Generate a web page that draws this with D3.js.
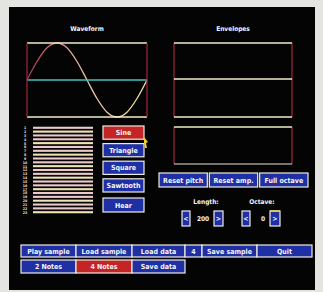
<!DOCTYPE html>
<html>
<head>
<meta charset="utf-8">
<script src="https://cdn.jsdelivr.net/npm/d3@7"></script>
<style>
  body { margin: 0; background: #e4e4e0; }
  text { font-family: "DejaVu Sans Condensed", "DejaVu Sans", sans-serif; font-weight: bold; }
</style>
</head>
<body>
<div id="chart"></div>
<script>
// waveform samples (one period, amplitude -1..1)
const wavePhase = [0, 1, 2, 3, 4, 5, 6, 7, 8, 9, 10, 11, 12];
const waveValues = [0, 0.5, 0.87, 1, 0.87, 0.5, 0, -0.5, -0.87, -1, -0.87, -0.5, 0];

// harmonic level stripes (all at full)
const harmonics = d3.range(1, 24);
const harmonicLevels = [1, 1, 1, 1, 1, 1, 1, 1, 1, 1, 1, 1, 1, 1, 1, 1, 1, 1, 1, 1, 1, 1, 1];

const waveButtons = ['Sine', 'Triangle', 'Square', 'Sawtooth'];
const resetButtons = ['Reset pitch', 'Reset amp.', 'Full octave'];
const menuRow1 = ['Play sample', 'Load sample', 'Load data', '4', 'Save sample', 'Quit'];
const menuRow2 = ['2 Notes', '4 Notes', 'Save data'];
const lengthValue = '200';
const octaveValue = '0';

const W = 323, H = 292;
const blue = '#1f2fa4', red = '#c42424', edge = '#f0ece0';

const svg = d3.select('#chart').append('svg')
    .attr('width', W).attr('height', H);

svg.append('rect').attr('x', 9).attr('y', 7).attr('width', 306).attr('height', 283)
    .attr('fill', '#050405');

function label(x, y, t, size, anchor) {
    svg.append('text').attr('x', x).attr('y', y)
        .attr('text-anchor', anchor || 'middle')
        .attr('font-size', size || 7)
        .attr('fill', '#f6f6f6')
        .text(t);
}

function button(x, y, w, h, t, fill) {
    svg.append('rect').attr('x', x).attr('y', y).attr('width', w).attr('height', h)
        .attr('fill', fill).attr('stroke', edge).attr('stroke-width', 1.2);
    label(x + w / 2, y + h / 2 + 2.6, t, 7);
}

// Waveform panel
label(87, 31, 'Waveform', 6.5);
const wx = d3.scaleLinear().domain([0, 12]).range([27, 147]);
const wy = d3.scaleLinear().domain([-1, 1]).range([117, 43]);

const grad = svg.append('defs').append('linearGradient').attr('id', 'wg')
    .attr('x1', '0%').attr('x2', '100%');
grad.append('stop').attr('offset', '0%').attr('stop-color', '#b03050');
grad.append('stop').attr('offset', '45%').attr('stop-color', '#e8c0a0');
grad.append('stop').attr('offset', '100%').attr('stop-color', '#f0e8a0');

svg.append('path')
    .attr('d', d3.line().x((d, i) => wx(wavePhase[i])).y(d => wy(d)).curve(d3.curveCardinal)(waveValues))
    .attr('fill', 'none').attr('stroke', 'url(#wg)').attr('stroke-width', 1.3);

[-1, 1].forEach(v => svg.append('line').attr('x1', 27).attr('x2', 147)
    .attr('y1', wy(v)).attr('y2', wy(v)).attr('stroke', '#f2ecc8').attr('stroke-width', 1.4));
svg.append('line').attr('x1', 27).attr('x2', 147).attr('y1', wy(0)).attr('y2', wy(0))
    .attr('stroke', '#3cc4c0').attr('stroke-width', 1.4);
[0, 12].forEach(p => svg.append('line').attr('x1', wx(p)).attr('x2', wx(p))
    .attr('y1', 43).attr('y2', 117).attr('stroke', '#a02838').attr('stroke-width', 1.2));

// Envelopes panel
label(233, 31, 'Envelopes', 6.5);
[[43, 117], [127, 164]].forEach(([y0, y1]) => {
    svg.append('line').attr('x1', 174).attr('x2', 174).attr('y1', y0).attr('y2', y1).attr('stroke', '#a02838').attr('stroke-width', 1.2);
    svg.append('line').attr('x1', 292).attr('x2', 292).attr('y1', y0).attr('y2', y1).attr('stroke', '#a02838').attr('stroke-width', 1.2);
});
[43, 79, 117, 127].forEach(y => svg.append('line').attr('x1', 174).attr('x2', 292)
    .attr('y1', y).attr('y2', y).attr('stroke', '#f2eccc').attr('stroke-width', 1.4));
svg.append('line').attr('x1', 174).attr('x2', 292).attr('y1', 164).attr('y2', 164)
    .attr('stroke', '#e8e0d0').attr('stroke-width', 1);

// harmonic stripes
const hy = d3.scaleBand().domain(harmonics).range([125, 215]).padding(0.45);
const hx = d3.scaleLinear().domain([0, 1]).range([33, 93]);
svg.selectAll('.hbar').data(harmonicLevels).enter().append('rect')
    .attr('x', hx(0)).attr('y', (d, i) => hy(harmonics[i]))
    .attr('width', d => hx(d) - hx(0)).attr('height', hy.bandwidth())
    .attr('fill', (d, i) => i % 3 === 1 ? '#ece4b0' : '#ecc8cc');
svg.selectAll('.hlab').data(harmonics).enter().append('text')
    .attr('x', 25).attr('y', d => hy(d) + 2.5).attr('text-anchor', 'middle')
    .attr('font-size', 3.5).attr('fill', '#e8e8e8').text(d => d);

// waveform select buttons
const by = d3.scaleBand().domain(waveButtons).range([126, 192]).paddingInner(0.25);
waveButtons.forEach((b, i) => button(103, by(b), 41, by.bandwidth(), b, i === 0 ? red : blue));
button(103, 198, 41, 14, 'Hear', blue);

// mouse pointer
svg.append('path').attr('d', 'M144,137 L148,142 L146,143 L147,148 L145,148 L144,143 Z')
    .attr('fill', '#f0d020');

// reset buttons
const rx = d3.scaleBand().domain(resetButtons).range([159, 308]).paddingInner(0.04);
resetButtons.forEach(b => button(rx(b), 173, rx.bandwidth(), 14, b, blue));

// length / octave
label(206, 204, 'Length:', 6.5);
label(262, 204, 'Octave:', 6.5);
button(182, 211, 8, 15, '<', blue);
label(203, 221, lengthValue, 6.5);
button(214, 211, 9, 15, '>', blue);
button(242, 211, 8, 15, '<', blue);
label(263, 221, octaveValue, 6.5);
button(270, 211, 10, 15, '>', blue);
svg.append('line').attr('x1', 270).attr('x2', 280).attr('y1', 211).attr('y2', 211)
    .attr('stroke', '#f0d040').attr('stroke-width', 1.5);

// bottom menu
const m1 = [21, 76, 132, 185, 202, 257, 312];
menuRow1.forEach((b, i) => button(m1[i], 245, m1[i + 1] - m1[i], 12, b, blue));
menuRow2.forEach((b, i) => button(m1[i], 260, m1[i + 1] - m1[i], 13, b, i === 1 ? red : blue));
</script>
</body>
</html>
